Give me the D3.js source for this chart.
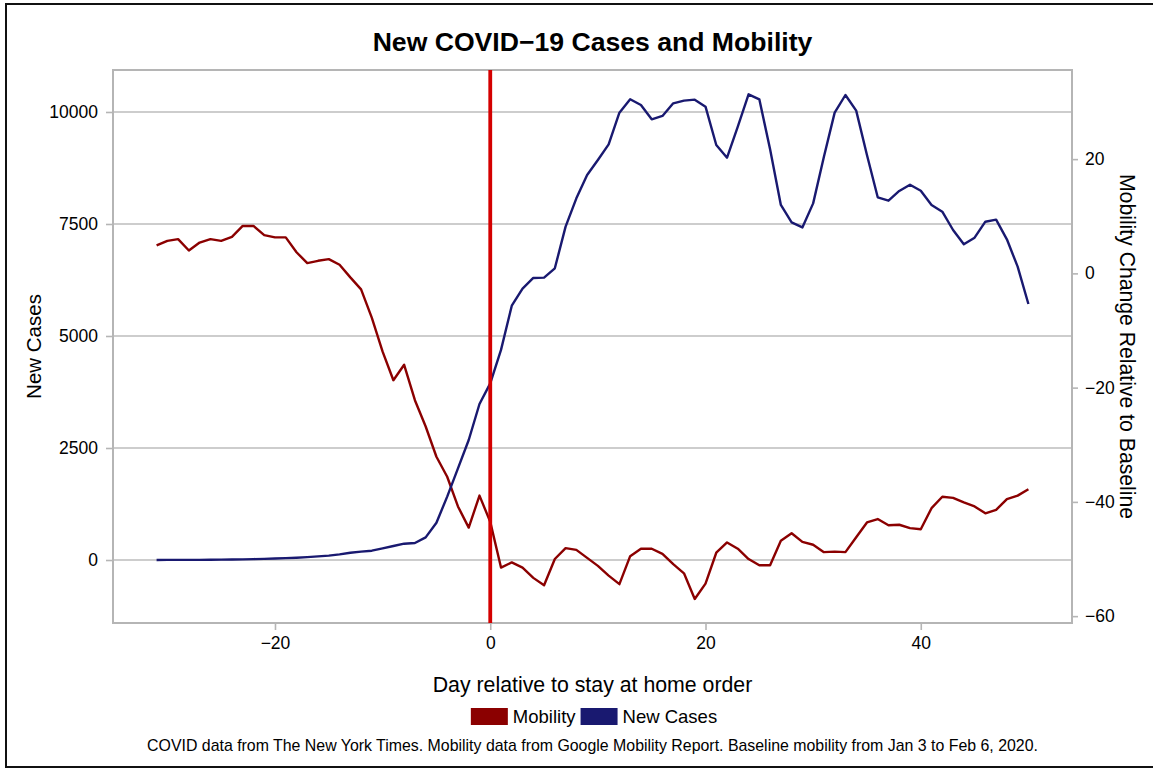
<!DOCTYPE html>
<html>
<head>
<meta charset="utf-8">
<script src="https://cdn.jsdelivr.net/npm/d3@7"></script>
<style>
  body { margin: 0; background: #fff; }
  svg { font-family: "Liberation Sans", Arial, Helvetica, sans-serif; }
</style>
</head>
<body>
<svg width="1153" height="771"></svg>
<script>
// day relative to the stay at home order
var days = d3.range(-31, 51);

// new cases per day (left axis)
var newCases = [1, 2, 3, 3, 4, 6, 8, 11, 15, 20, 26, 33, 42, 52, 65, 80, 98, 125, 163, 186,
    208, 260, 312, 364, 380, 506, 833, 1414, 2046, 2679, 3482,
    3943,
    4690, 5677, 6056, 6295, 6302, 6511, 7440, 8073, 8594, 8929, 9278, 9985, 10283, 10156, 9836,
    9911, 10193, 10253, 10275, 10119, 9263, 8980, 9672, 10394, 10283, 9167, 7924, 7536, 7424,
    7960, 9002, 9985, 10379, 10030, 9040, 8095, 8020, 8237, 8377, 8243, 7924, 7775, 7366, 7046,
    7194, 7551, 7596, 7158, 6547, 5714];

// mobility change relative to baseline (right axis)
var mobility = [4.9, 5.7, 6.0, 4.0, 5.4, 6.0, 5.7, 6.4, 8.3, 8.3, 6.7, 6.3, 6.3, 3.7, 1.8, 2.2,
    2.5, 1.5, -0.7, -2.8, -7.8, -13.7, -18.7, -16.0, -22.2, -26.8, -32.1, -35.6, -40.8, -44.5, -38.9,
    -43.5,
    -51.5, -50.6, -51.5, -53.3, -54.6, -50.0, -48.1, -48.4, -49.8, -51.2, -52.9, -54.4, -49.5, -48.2,
    -48.2, -49.1, -50.9, -52.5, -57.0, -54.3, -48.9, -47.1, -48.2, -50.0, -51.1, -51.1, -46.8, -45.5,
    -47.0, -47.5, -48.8, -48.7, -48.8, -46.2, -43.6, -43.0, -44.1, -44.0, -44.6, -44.8, -41.1, -39.1,
    -39.3, -40.1, -40.8, -42.0, -41.4, -39.5, -38.9, -37.8];

var xTicks = [-20, 0, 20, 40];
var caseTicks = [0, 2500, 5000, 7500, 10000];
var mobTicks = [-60, -40, -20, 0, 20];
var orderDay = 0;

var seriesNames = ["Mobility", "New Cases"];
var seriesColors = ["#8b0000", "#191970"];

var svg = d3.select("svg"),
    margin = {top: 70, right: 81, bottom: 148, left: 113},
    width = +svg.attr("width") - margin.left - margin.right,
    height = +svg.attr("height") - margin.top - margin.bottom;

// outer frame
svg.append("rect")
    .attr("x", 6).attr("y", 4)
    .attr("width", 1170).attr("height", 763)
    .attr("fill", "none")
    .attr("stroke", "#111")
    .attr("stroke-width", 2);

var g = svg.append("g")
    .attr("transform", "translate(" + margin.left + "," + margin.top + ")");

// ggplot style 5% expansion on x
var x = d3.scaleLinear().domain([-35.05, 54.05]).range([0, width]),
    yCases = d3.scaleLinear().domain([-1406, 10937]).range([height, 0]),
    yMob = d3.scaleLinear().domain([-61.2, 35.6]).range([height, 0]);

// horizontal grid
g.append("g")
  .selectAll("line")
  .data(caseTicks)
  .enter().append("line")
    .attr("x1", 0).attr("x2", width)
    .attr("y1", d => yCases(d)).attr("y2", d => yCases(d))
    .attr("stroke", "#bdbdbd")
    .attr("stroke-width", 1.6);

// panel border
g.append("rect")
    .attr("width", width).attr("height", height)
    .attr("fill", "none")
    .attr("stroke", "#b5b5b5")
    .attr("stroke-width", 2);

function styleAxis(sel) {
    sel.select(".domain").remove();
    sel.selectAll(".tick line").attr("stroke", "#b5b5b5").attr("stroke-width", 1.6);
    sel.selectAll(".tick text").attr("fill", "#000").style("font-size", "17.5px");
}

g.append("g")
    .call(d3.axisLeft(yCases).tickValues(caseTicks).tickFormat(d3.format("d")).tickSize(7).tickPadding(8))
    .call(styleAxis);

g.append("g")
    .attr("transform", "translate(" + width + ",0)")
    .call(d3.axisRight(yMob).tickValues(mobTicks).tickFormat(d3.format("d")).tickSize(6).tickPadding(7))
    .call(styleAxis);

g.append("g")
    .attr("transform", "translate(0," + height + ")")
    .call(d3.axisBottom(x).tickValues(xTicks).tickFormat(d3.format("d")).tickSize(7).tickPadding(7))
    .call(styleAxis);

var lineMob = d3.line()
    .x(function(d, i) { return x(days[i]); })
    .y(function(d) { return yMob(d); });

var lineCases = d3.line()
    .x(function(d, i) { return x(days[i]); })
    .y(function(d) { return yCases(d); });

g.append("path")
    .datum(mobility)
    .attr("fill", "none")
    .attr("stroke", seriesColors[0])
    .attr("stroke-width", 2.4)
    .attr("stroke-linejoin", "round")
    .attr("d", lineMob);

g.append("path")
    .datum(newCases)
    .attr("fill", "none")
    .attr("stroke", seriesColors[1])
    .attr("stroke-width", 2.4)
    .attr("stroke-linejoin", "round")
    .attr("d", lineCases);

// stay at home order
g.append("line")
    .attr("x1", x(orderDay)).attr("x2", x(orderDay))
    .attr("y1", 0).attr("y2", height)
    .attr("stroke", "#d40000")
    .attr("stroke-width", 3.8);

// title and axis titles
svg.append("text")
    .attr("x", margin.left + width / 2).attr("y", 51)
    .attr("text-anchor", "middle")
    .style("font-size", "26.6px").style("font-weight", "bold")
    .text("New COVID\u221219 Cases and Mobility");

svg.append("text")
    .attr("x", margin.left + width / 2).attr("y", 692)
    .attr("text-anchor", "middle")
    .style("font-size", "21.3px")
    .text("Day relative to stay at home order");

svg.append("text")
    .attr("transform", "translate(33," + (margin.top + height / 2) + ") rotate(-90)")
    .attr("text-anchor", "middle")
    .attr("dominant-baseline", "central")
    .style("font-size", "20.5px")
    .text("New Cases");

svg.append("text")
    .attr("transform", "translate(1127," + (margin.top + height / 2) + ") rotate(90)")
    .attr("text-anchor", "middle")
    .attr("dominant-baseline", "central")
    .style("font-size", "21.2px")
    .text("Mobility Change Relative to Baseline");

// legend
var legend = svg.append("g");
var lx = 0;
seriesNames.forEach(function(name, i) {
    legend.append("rect")
        .attr("x", lx).attr("y", 708)
        .attr("width", 37).attr("height", 17)
        .attr("fill", seriesColors[i]);
    var t = legend.append("text")
        .attr("x", lx + 42).attr("y", 723)
        .style("font-size", "18.5px")
        .text(name);
    lx += 42 + t.node().getComputedTextLength() + 5;
});
legend.attr("transform", "translate(" + (594 - (lx - 5) / 2) + ",0)");

svg.append("text")
    .attr("x", margin.left + width / 2).attr("y", 751)
    .attr("text-anchor", "middle")
    .style("font-size", "15.9px")
    .text("COVID data from The New York Times. Mobility data from Google Mobility Report. Baseline mobility from Jan 3 to Feb 6, 2020.");
</script>
</body>
</html>
